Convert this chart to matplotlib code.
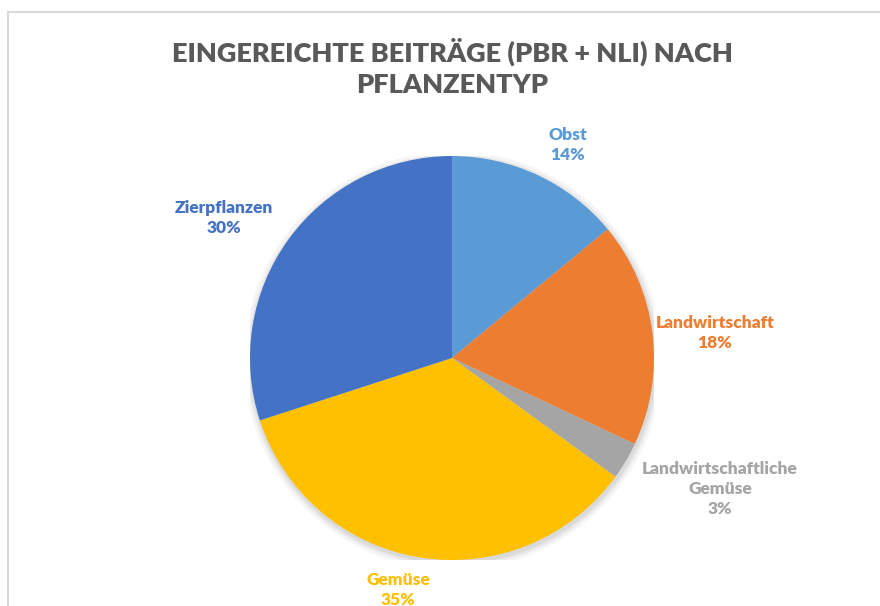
import matplotlib
matplotlib.use("Agg")
from matplotlib import pyplot as plt
from matplotlib.patches import Rectangle, Circle

# Daten
kategorien = ["Obst", "Landwirtschaft", "Landwirtschaftliche\nGemüse", "Gemüse", "Zierpflanzen"]
anteile = [14, 18, 3, 35, 30]
farben = ["#5B9BD5", "#ED7D31", "#A5A5A5", "#FFC000", "#4472C4"]
label_pos = [(0.574, 1.054), (1.302, 0.124), (1.327, -0.649), (-0.267, -1.150), (-1.129, 0.693)]

plt.rcParams['font.family'] = ['Lato', 'DejaVu Sans']

fig = plt.figure(figsize=(8.8, 6.06), dpi=100)
fig.patch.set_facecolor('white')

# Rahmen um das Diagramm
fig.patches.append(Rectangle((8 / 880, -0.1), 1.2, (606 - 12) / 606 + 0.1, transform=fig.transFigure,
                             fill=False, edgecolor='#D9D9D9', linewidth=1.5))

ax = fig.add_axes([(452 - 202) / 880, (606 - 560) / 606, 404 / 880, 404 / 606])
ax.set_xlim(-1, 1)
ax.set_ylim(-1, 1)
ax.set_aspect('equal')
ax.axis('off')

# weicher Schatten
for r, a in [(1.035, 0.04), (1.02, 0.05), (1.008, 0.06)]:
    ax.add_patch(Circle((0.005, -0.012), r, color='black', alpha=a, linewidth=0, zorder=0))

wedges, _ = ax.pie(anteile, colors=farben, startangle=90, counterclock=False, radius=1,
                   wedgeprops=dict(linewidth=0), frame=False)
ax.set_xlim(-1, 1)
ax.set_ylim(-1, 1)

for name, wert, farbe, (lx, ly) in zip(kategorien, anteile, farben, label_pos):
    ax.text(lx, ly, f"{name}\n{wert}%", ha='center', va='center', color=farbe,
            fontsize=12.5, fontweight='heavy', linespacing=1.3, clip_on=False)

fig.text(452 / 880, 1 - 67 / 606, "EINGEREICHTE BEITRÄGE (PBR + NLI) NACH\nPFLANZENTYP",
         ha='center', va='center', color='#595959', fontsize=19.5, fontweight='heavy', linespacing=1.35)

fig.savefig("out.png", dpi=100, facecolor='white')
